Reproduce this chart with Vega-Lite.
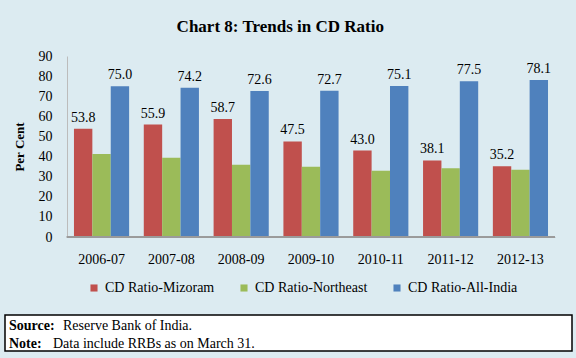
{
  "$schema": "https://vega.github.io/schema/vega-lite/v6.json",
  "background": "#dcebf1",
  "padding": {"left": 4, "right": 5, "top": 18, "bottom": 6},
  "spacing": 19,
  "resolve": {"legend": {"color": "independent"}, "scale": {"color": "independent"}},
  "config": {
    "font": "Liberation Serif",
    "view": {"stroke": null}
  },
  "datasets": {
    "cd": [
      {"year": "2006-07", "series": "CD Ratio-Mizoram", "value": 53.8},
      {"year": "2006-07", "series": "CD Ratio-Northeast", "value": 41.3},
      {"year": "2006-07", "series": "CD Ratio-All-India", "value": 75.0},
      {"year": "2007-08", "series": "CD Ratio-Mizoram", "value": 55.9},
      {"year": "2007-08", "series": "CD Ratio-Northeast", "value": 39.4},
      {"year": "2007-08", "series": "CD Ratio-All-India", "value": 74.2},
      {"year": "2008-09", "series": "CD Ratio-Mizoram", "value": 58.7},
      {"year": "2008-09", "series": "CD Ratio-Northeast", "value": 35.9},
      {"year": "2008-09", "series": "CD Ratio-All-India", "value": 72.6},
      {"year": "2009-10", "series": "CD Ratio-Mizoram", "value": 47.5},
      {"year": "2009-10", "series": "CD Ratio-Northeast", "value": 34.9},
      {"year": "2009-10", "series": "CD Ratio-All-India", "value": 72.7},
      {"year": "2010-11", "series": "CD Ratio-Mizoram", "value": 43.0},
      {"year": "2010-11", "series": "CD Ratio-Northeast", "value": 32.9},
      {"year": "2010-11", "series": "CD Ratio-All-India", "value": 75.1},
      {"year": "2011-12", "series": "CD Ratio-Mizoram", "value": 38.1},
      {"year": "2011-12", "series": "CD Ratio-Northeast", "value": 34.2},
      {"year": "2011-12", "series": "CD Ratio-All-India", "value": 77.5},
      {"year": "2012-13", "series": "CD Ratio-Mizoram", "value": 35.2},
      {"year": "2012-13", "series": "CD Ratio-Northeast", "value": 33.4},
      {"year": "2012-13", "series": "CD Ratio-All-India", "value": 78.1}
    ],
    "footer": [
      {"line": 1, "label": "Source:", "text": "Reserve Bank of India."},
      {"line": 2, "label": "Note:", "text": "Data include RRBs as on March 31."}
    ]
  },
  "vconcat": [
    {
      "title": {
        "text": "Chart 8: Trends in CD Ratio",
        "font": "Liberation Serif",
        "fontSize": 17,
        "fontWeight": "bold",
        "color": "#000000",
        "frame": "bounds",
        "anchor": "middle",
        "offset": 13
      },
      "width": 550,
      "height": 181,
      "data": {"name": "cd"},
      "encoding": {
        "x": {
          "field": "year",
          "type": "nominal",
          "title": null,
          "scale": {"paddingInner": 0.21, "paddingOuter": 0.544, "align": 0.908},
          "axis": {
            "labelAngle": 0,
            "labelFontSize": 14,
            "labelColor": "#000000",
            "labelPadding": 15,
            "ticks": false,
            "domain": false,
            "grid": false
          }
        },
        "xOffset": {
          "field": "series",
          "type": "nominal",
          "scale": {"domain": ["CD Ratio-Mizoram", "CD Ratio-Northeast", "CD Ratio-All-India"]}
        },
        "y": {
          "field": "value",
          "type": "quantitative",
          "title": "Per Cent",
          "scale": {"domain": [0, 90]},
          "axis": {
            "offset": -62,
            "values": [0, 10, 20, 30, 40, 50, 60, 70, 80, 90],
            "grid": false,
            "ticks": false,
            "labelFontSize": 14,
            "labelColor": "#000000",
            "labelPadding": 15,
            "domainColor": "#bcbcbc",
            "titleFontSize": 13,
            "titleFontWeight": "bold",
            "titleColor": "#000000",
            "titlePadding": 12
          }
        }
      },
      "layer": [
        {
          "mark": {"type": "bar"},
          "encoding": {
            "color": {
              "field": "series",
              "type": "nominal",
              "scale": {
                "domain": ["CD Ratio-Mizoram", "CD Ratio-Northeast", "CD Ratio-All-India"],
                "range": ["#c0504d", "#9bbb59", "#4f81bd"]
              },
              "legend": {
                "orient": "none",
                "legendX": 82,
                "legendY": 225,
                "direction": "horizontal",
                "title": null,
                "symbolType": "square",
                "symbolSize": 50,
                "symbolStrokeWidth": 0,
                "labelFontSize": 14,
                "labelColor": "#000000",
                "labelFont": "Liberation Serif",
                "columnPadding": 22,
                "labelOffset": 4
              }
            }
          }
        },
        {
          "transform": [{"filter": "datum.series !== 'CD Ratio-Northeast'"}],
          "mark": {"type": "text", "baseline": "bottom", "dy": -4, "fontSize": 14, "color": "#000000"},
          "encoding": {
            "text": {"field": "value", "type": "quantitative", "format": ".1f"}
          }
        },
        {
          "mark": {"type": "rule", "color": "#9a9a9a", "strokeWidth": 1},
          "encoding": {
            "x": {"datum": "2006-07", "bandPosition": -0.127},
            "x2": {"datum": "2012-13", "bandPosition": 1.127},
            "y": {"datum": 0},
            "xOffset": null
          }
        }
      ]
    },
    {
      "width": 567,
      "height": 36,
      "view": {"fill": "#ffffff", "stroke": "#000000", "strokeWidth": 1.5},
      "data": {"name": "footer"},
      "encoding": {
        "y": {"field": "line", "type": "ordinal", "axis": null, "scale": {"type": "point", "padding": 0.5}}
      },
      "layer": [
        {
          "mark": {"type": "text", "align": "left", "baseline": "middle", "fontSize": 14, "fontWeight": "bold", "color": "#000000", "dy": 2},
          "encoding": {"x": {"value": 4}, "text": {"field": "label"}}
        },
        {
          "transform": [{"filter": "datum.line == 1"}],
          "mark": {"type": "text", "align": "left", "baseline": "middle", "fontSize": 14, "color": "#000000", "dy": 2},
          "encoding": {"x": {"value": 58}, "text": {"field": "text"}}
        },
        {
          "transform": [{"filter": "datum.line == 2"}],
          "mark": {"type": "text", "align": "left", "baseline": "middle", "fontSize": 14, "color": "#000000", "dy": 2},
          "encoding": {"x": {"value": 48}, "text": {"field": "text"}}
        }
      ]
    }
  ]
}
